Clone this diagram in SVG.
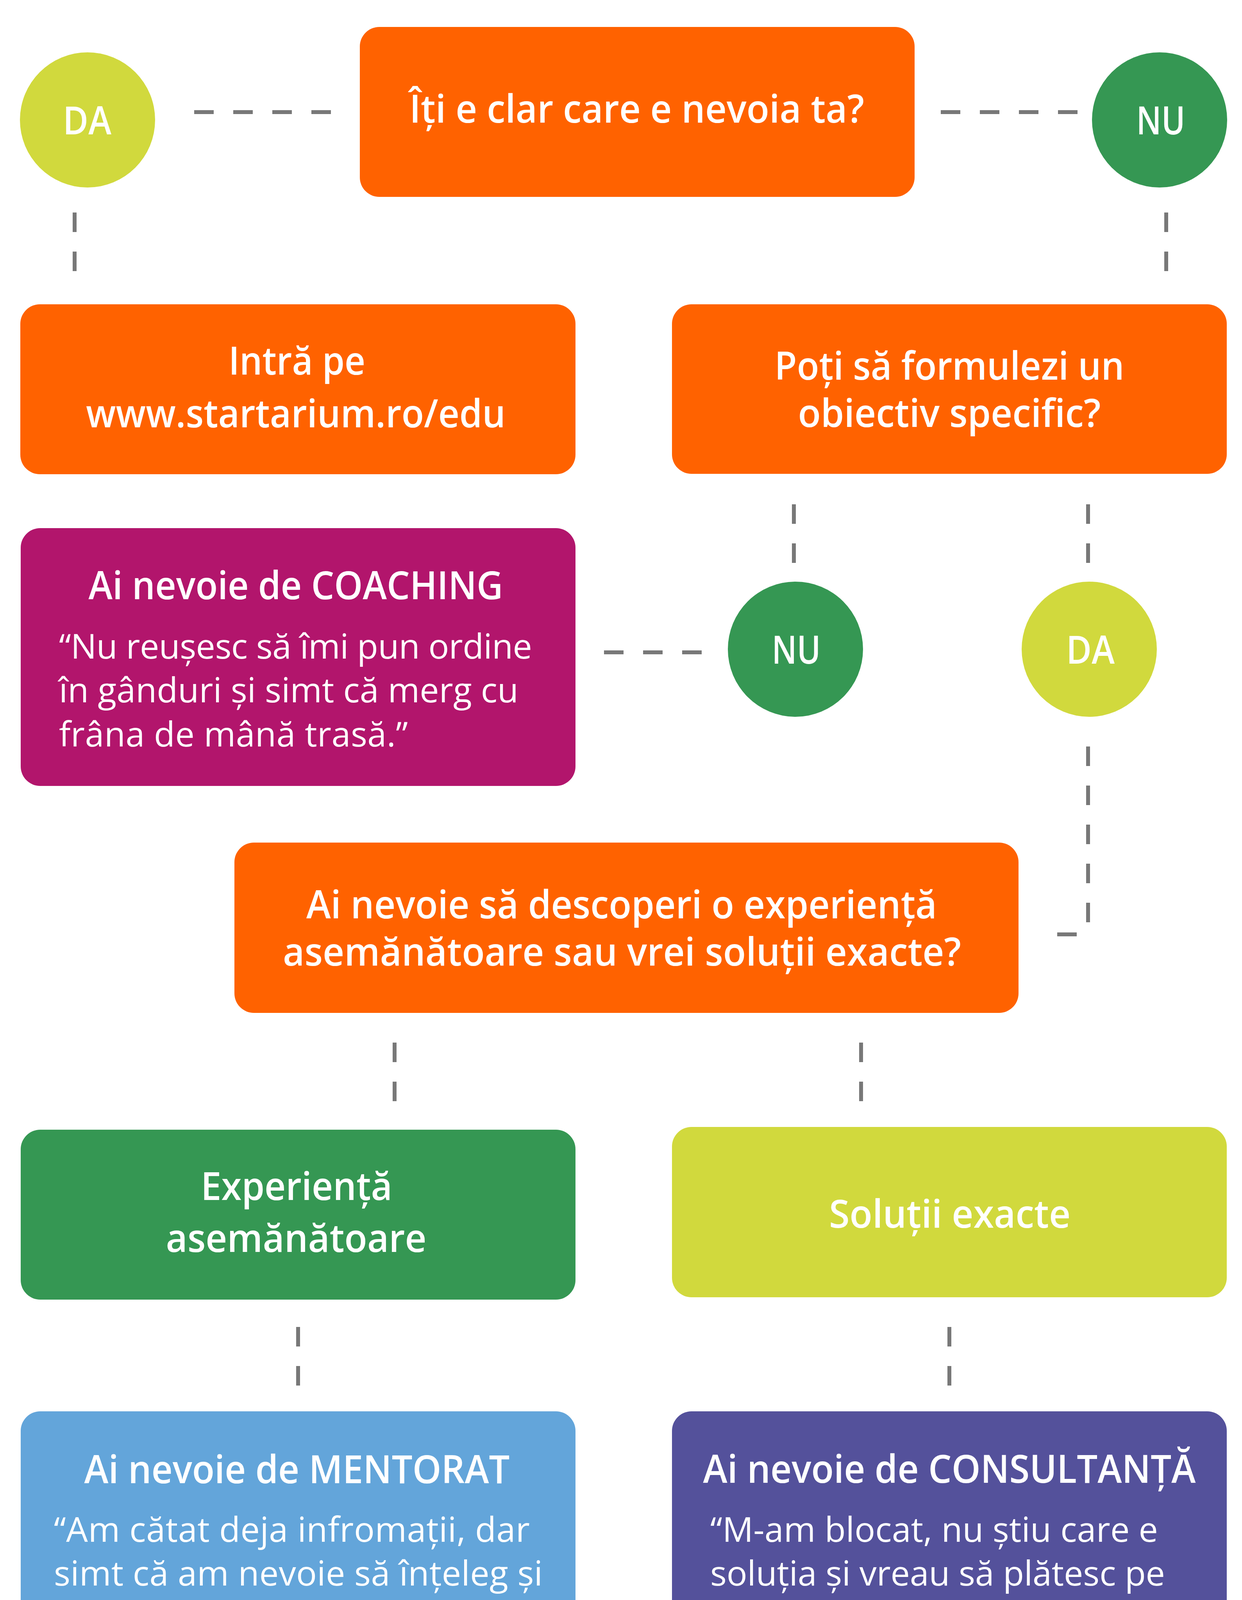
<svg xmlns="http://www.w3.org/2000/svg" width="3179" height="4307" viewBox="0 0 3179 4307">
<style>
  .t { font-family: "Open Sans", "Noto Sans", "DejaVu Sans", sans-serif; fill: #ffffff; }
  .h { font-weight: 600; font-size: 99px; text-anchor: middle; }
  .c { font-weight: 600; font-size: 99px; text-anchor: middle; }
  .q { font-weight: 400; font-size: 88px; }
  .orange { fill: #FF6200; }
  .lime { fill: #D1D93D; }
  .green { fill: #359753; }
  .magenta { fill: #B2156C; }
  .blue { fill: #63A5DA; }
  .purple { fill: #54519B; }
  .conn path { fill: none; stroke: #787878; stroke-width: 10; stroke-dasharray: 50 50; }
</style>
<rect x="0" y="0" width="3179" height="4307" fill="#ffffff"/>

<g id="connectors" class="conn">
  <path d="M497 287 H847"/>
  <path d="M2408 287 H2758"/>
  <path d="M191 544 V694"/>
  <path d="M2985 544 V694"/>
  <path d="M2032 1291 V1441"/>
  <path d="M2785 1291 V1441"/>
  <path d="M1546 1670 H1796"/>
  <path d="M2785 1911 V2361"/>
  <path d="M2756 2392 H2706"/>
  <path d="M1010 2669 V2819"/>
  <path d="M2204 2669 V2819"/>
  <path d="M763 3397 V3547"/>
  <path d="M2430 3397 V3547"/>
</g>

<g id="node-top">
  <rect class="orange" x="921" y="69" width="1420" height="435" rx="50"/>
  <text class="t h" x="1630" y="314" textLength="1164" lengthAdjust="spacingAndGlyphs">Îți e clar care e nevoia ta?</text>
</g>

<g id="node-da1">
  <circle class="lime" cx="224" cy="307" r="173"/>
  <text class="t c" x="223" y="344" textLength="124" lengthAdjust="spacingAndGlyphs">DA</text>
</g>

<g id="node-nu1">
  <circle class="green" cx="2968" cy="307" r="173"/>
  <text class="t c" x="2971" y="344" textLength="125" lengthAdjust="spacingAndGlyphs">NU</text>
</g>

<g id="node-intra">
  <rect class="orange" x="52" y="779" width="1421" height="435" rx="50"/>
  <text class="t h" x="760" y="959" textLength="350" lengthAdjust="spacingAndGlyphs">Intră pe</text>
  <text class="t h" x="757" y="1094" textLength="1074" lengthAdjust="spacingAndGlyphs">www.startarium.ro/edu</text>
</g>

<g id="node-poti">
  <rect class="orange" x="1720" y="779" width="1420" height="434" rx="50"/>
  <text class="t h" x="2430" y="972" textLength="895" lengthAdjust="spacingAndGlyphs">Poți să formulezi un</text>
  <text class="t h" x="2430" y="1093" textLength="775" lengthAdjust="spacingAndGlyphs">obiectiv specific?</text>
</g>

<g id="node-coaching">
  <rect class="magenta" x="53" y="1352" width="1420" height="660" rx="50"/>
  <text class="t h" x="757" y="1534" textLength="1061" lengthAdjust="spacingAndGlyphs">Ai nevoie de COACHING</text>
  <text class="t q" x="151" y="1686" textLength="1211">“Nu reușesc să îmi pun ordine</text>
  <text class="t q" x="151" y="1798" textLength="1176">în gânduri și simt că merg cu</text>
  <text class="t q" x="151" y="1911" textLength="893">frâna de mână trasă.”</text>
</g>

<g id="node-nu2">
  <circle class="green" cx="2036" cy="1662" r="173"/>
  <text class="t c" x="2038" y="1699" textLength="125" lengthAdjust="spacingAndGlyphs">NU</text>
</g>

<g id="node-da2">
  <circle class="lime" cx="2788" cy="1662" r="173"/>
  <text class="t c" x="2791" y="1699" textLength="124" lengthAdjust="spacingAndGlyphs">DA</text>
</g>

<g id="node-descoperi">
  <rect class="orange" x="600" y="2157" width="2007" height="436" rx="50"/>
  <text class="t h" x="1591" y="2351" textLength="1614" lengthAdjust="spacingAndGlyphs">Ai nevoie să descoperi o experiență</text>
  <text class="t h" x="1592" y="2472" textLength="1736" lengthAdjust="spacingAndGlyphs">asemănătoare sau vrei soluții exacte?</text>
</g>

<g id="node-experienta">
  <rect class="green" x="53" y="2892" width="1420" height="435" rx="50"/>
  <text class="t h" x="759" y="3072" textLength="490" lengthAdjust="spacingAndGlyphs">Experiență</text>
  <text class="t h" x="758" y="3205" textLength="667" lengthAdjust="spacingAndGlyphs">asemănătoare</text>
</g>

<g id="node-solutii">
  <rect class="lime" x="1720" y="2885" width="1420" height="436" rx="50"/>
  <text class="t h" x="2431" y="3143" textLength="618" lengthAdjust="spacingAndGlyphs">Soluții exacte</text>
</g>

<g id="node-mentorat">
  <rect class="blue" x="53" y="3613" width="1420" height="660" rx="50"/>
  <text class="t h" x="760" y="3797" textLength="1089" lengthAdjust="spacingAndGlyphs">Ai nevoie de MENTORAT</text>
  <text class="t q" x="138" y="3947" textLength="1218">“Am cătat deja infromații, dar</text>
  <text class="t q" x="138" y="4059" textLength="1251">simt că am nevoie să înțeleg și</text>
  <text class="t q" x="138" y="4171" textLength="1208">experiența altui antreprenor.”</text>
</g>

<g id="node-consultanta">
  <rect class="purple" x="1720" y="3613" width="1420" height="660" rx="50"/>
  <text class="t h" x="2430" y="3796" textLength="1261" lengthAdjust="spacingAndGlyphs">Ai nevoie de CONSULTANȚĂ</text>
  <text class="t q" x="1818" y="3947" textLength="1146">“M-am blocat, nu știu care e</text>
  <text class="t q" x="1818" y="4059" textLength="1164">soluția și vreau să plătesc pe</text>
  <text class="t q" x="1818" y="4171" textLength="912">cineva să o găsească.”</text>
</g>
</svg>
